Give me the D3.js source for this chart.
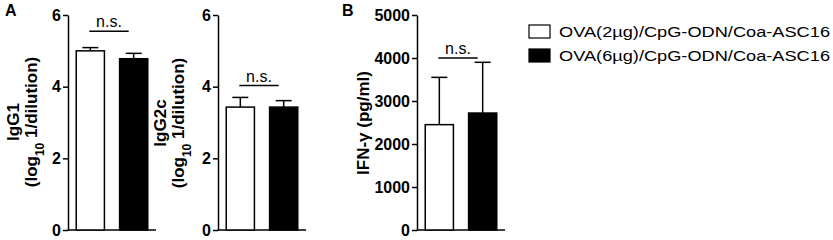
<!DOCTYPE html>
<html lang="en">
<head>
<meta charset="UTF-8">
<title>OVA dose comparison</title>
<script src="https://d3js.org/d3.v7.min.js"></script>
<style>
  body { margin: 0; background: #fff; }
  svg { display: block; font-family: Arial, "Liberation Sans", sans-serif; }
  .axis path, .axis line { stroke: #000; stroke-width: 1.5px; }
  .axis text { font-size: 16px; font-weight: bold; fill: #000; }
  .ylab { font-size: 17px; font-weight: bold; }
  .ns { font-size: 16px; }
  .panel-letter { font-size: 16px; font-weight: bold; }
  .legend text { font-size: 15.5px; }
</style>
</head>
<body>
<div id="chart"></div>
<script>
// groups
const categories = ["OVA(2µg)/CpG-ODN/Coa-ASC16", "OVA(6µg)/CpG-ODN/Coa-ASC16"];
const barFills = ["#fff", "#000"];

// IgG1 titer (log10 1/dilution)
const igg1Mean = [5.0, 4.78];
const igg1Err = [0.09, 0.15];

// IgG2c titer
const igg2cMean = [3.43, 3.43];
const igg2cErr = [0.27, 0.18];

// IFN-gamma (pg/ml)
const ifnMean = [2450, 2720];
const ifnErr = [1100, 1180];

const logTicks = [0, 2, 4, 6];
const ifnTicks = [0, 1000, 2000, 3000, 4000, 5000];

const width = 833, height = 240;
const svg = d3.select('#chart').append('svg')
  .attr('width', width)
  .attr('height', height);

function drawPanel(opt) {
  const g = svg.append('g');
  const y = d3.scaleLinear().domain(opt.domain).range([230, 15]);
  const x = d3.scaleBand().domain(categories)
    .range([opt.x0, opt.x0 + 88])
    .paddingInner(0.35).paddingOuter(0.19);

  g.append('g').attr('class', 'axis')
    .attr('transform', `translate(${opt.x0},0)`)
    .call(d3.axisLeft(y).tickValues(opt.ticks).tickFormat(d3.format('d'))
      .tickSize(5).tickSizeOuter(0).tickPadding(2));

  // baseline
  g.append('line')
    .attr('x1', opt.x0).attr('x2', opt.x0 + 88)
    .attr('y1', y(0)).attr('y2', y(0))
    .attr('stroke', '#000').attr('stroke-width', 1.5);

  const bw = x.bandwidth();
  // error bars (upper only)
  categories.forEach((c, i) => {
    const cx = x(c) + bw / 2;
    g.append('line')
      .attr('x1', cx).attr('x2', cx)
      .attr('y1', y(opt.mean[i])).attr('y2', y(opt.mean[i] + opt.err[i]))
      .attr('stroke', '#000').attr('stroke-width', 1.5);
    g.append('line')
      .attr('x1', cx - 8).attr('x2', cx + 8)
      .attr('y1', y(opt.mean[i] + opt.err[i])).attr('y2', y(opt.mean[i] + opt.err[i]))
      .attr('stroke', '#000').attr('stroke-width', 1.5);
  });

  g.selectAll('rect.bar')
    .data(categories)
    .enter().append('rect')
    .attr('class', 'bar')
    .attr('x', d => x(d))
    .attr('width', bw)
    .attr('y', (d, i) => y(opt.mean[i]))
    .attr('height', (d, i) => y(0) - y(opt.mean[i]))
    .attr('fill', (d, i) => barFills[i])
    .attr('stroke', '#000')
    .attr('stroke-width', 1.5);

  // n.s. bracket
  const nsY = y(opt.nsAt);
  const xa = x(categories[0]) + bw / 2 - 1, xb = x(categories[1]) + bw / 2 - 5;
  g.append('line')
    .attr('x1', xa).attr('x2', xb)
    .attr('y1', nsY).attr('y2', nsY)
    .attr('stroke', '#000').attr('stroke-width', 1.5);
  g.append('text').attr('class', 'ns')
    .attr('x', (xa + xb) / 2).attr('y', nsY - 4)
    .attr('text-anchor', 'middle')
    .text('n.s.');

  // y label
  opt.labels.forEach((lab, k) => {
    const t = g.append('text').attr('class', 'ylab')
      .attr('transform', `translate(${opt.labX[k]},${opt.labY}) rotate(-90)`)
      .attr('text-anchor', 'middle');
    lab(t);
  });
}

function logLabel(t) {
  t.append('tspan').text('(log');
  t.append('tspan').attr('baseline-shift', 'sub').attr('font-size', '12px').text('10');
  t.append('tspan').text(' 1/dilution)');
}

drawPanel({
  x0: 68, domain: [0, 6], ticks: logTicks,
  mean: igg1Mean, err: igg1Err, nsAt: 5.55,
  labX: [19, 37], labY: 122,
  labels: [t => t.text('IgG1'), logLabel]
});

drawPanel({
  x0: 218, domain: [0, 6], ticks: logTicks,
  mean: igg2cMean, err: igg2cErr, nsAt: 4.03,
  labX: [166, 184], labY: 123,
  labels: [t => t.text('IgG2c'), logLabel]
});

drawPanel({
  x0: 417, domain: [0, 5000], ticks: ifnTicks,
  mean: ifnMean, err: ifnErr, nsAt: 4000,
  labX: [369], labY: 123,
  labels: [t => t.text('IFN-γ (pg/ml)')]
});

svg.append('text').attr('class', 'panel-letter').attr('x', 5).attr('y', 16).text('A');
svg.append('text').attr('class', 'panel-letter').attr('x', 342).attr('y', 16).text('B');

// legend
const legend = svg.append('g').attr('class', 'legend');
categories.forEach((c, i) => {
  legend.append('rect')
    .attr('x', 529).attr('y', 25 + i * 24)
    .attr('width', 21).attr('height', 13)
    .attr('fill', barFills[i])
    .attr('stroke', '#000').attr('stroke-width', 1.2);
  legend.append('text')
    .attr('x', 559).attr('y', 37 + i * 24)
    .attr('textLength', 271).attr('lengthAdjust', 'spacingAndGlyphs')
    .text(c);
});
</script>
</body>
</html>
